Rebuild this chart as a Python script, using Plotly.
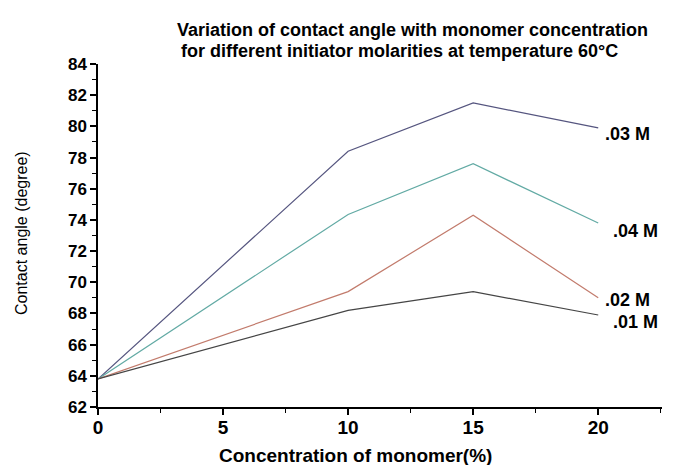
import plotly.graph_objects as go

# Data
conc = [0, 10, 15, 20]
series_names = [".03 M", ".04 M", ".02 M", ".01 M"]
angle_03 = [63.8, 78.4, 81.5, 79.9]
angle_04 = [63.8, 74.35, 77.6, 73.8]
angle_02 = [63.8, 69.4, 74.3, 69.0]
angle_01 = [63.8, 68.2, 69.4, 67.9]
y_ticks = list(range(62, 85, 2))
x_ticks = [0, 5, 10, 15, 20]

colors = ["#55557f", "#62aaa4", "#c27b6c", "#454545"]
series = [angle_03, angle_04, angle_02, angle_01]

FONT = "Arial, Liberation Sans, sans-serif"

# plot area in pixels: left 98, right 662, top 64, bottom 407
L, R, T, B = 98, 662, 64, 407
W, H = R - L, B - T


def px(xp):
    return (xp - L) / W


def py(yp):
    return (B - yp) / H


fig = go.Figure()
for name, vals, col in zip(series_names, series, colors):
    fig.add_trace(go.Scatter(x=conc, y=vals, mode="lines", name=name,
                             line=dict(color=col, width=1.2), cliponaxis=False))

# line-end labels (pixel positions of left edge / vertical centre)
label_pos = [(603, 134), (611, 231), (603, 300), (611, 322)]
for name, (lx, ly) in zip(series_names, label_pos):
    fig.add_annotation(x=px(lx), y=py(ly), xref="paper", yref="paper", text=name,
                       showarrow=False, xanchor="left", yanchor="middle",
                       font=dict(family=FONT, size=18, color="black", weight="bold"))

# title
fig.add_annotation(xref="paper", yref="paper", x=px(175), y=py(30),
                   text="Variation of contact angle with monomer concentration",
                   showarrow=False, xanchor="left", yanchor="middle",
                   font=dict(family=FONT, size=18, color="black", weight="bold"))
fig.add_annotation(xref="paper", yref="paper", x=px(179), y=py(51),
                   text="for different initiator molarities at temperature 60°C",
                   showarrow=False, xanchor="left", yanchor="middle",
                   font=dict(family=FONT, size=18, color="black", weight="bold"))

# axis titles
fig.add_annotation(xref="paper", yref="paper", x=px(355), y=py(455),
                   text="Concentration of monomer(%)", showarrow=False,
                   xanchor="center", yanchor="middle",
                   font=dict(family=FONT, size=19, color="black", weight="bold"))
fig.add_annotation(xref="paper", yref="paper", x=px(21), y=py(233),
                   text="Contact angle (degree)", showarrow=False, textangle=-90,
                   xanchor="center", yanchor="middle",
                   font=dict(family=FONT, size=16, color="black"))

fig.update_layout(
    width=674, height=465,
    margin=dict(l=L, r=674 - R, t=T, b=465 - B),
    plot_bgcolor="white", paper_bgcolor="white",
    showlegend=False,
    font=dict(family=FONT, color="black"),
)
fig.update_xaxes(
    range=[0, 22.55], tickvals=x_ticks, ticktext=[str(v) for v in x_ticks],
    showgrid=False, zeroline=False, showline=True, linecolor="black", linewidth=1.5,
    ticks="outside", ticklen=6, tickwidth=1.5, tickcolor="black",
    minor=dict(dtick=2.5, tick0=0, ticks="outside", ticklen=4, tickcolor="black", tickwidth=1),
    tickfont=dict(family=FONT, size=19, color="black", weight="bold"),
    ticklabelstandoff=-4,
)
fig.update_yaxes(
    range=[62, 84], tickvals=y_ticks, ticktext=[str(v) for v in y_ticks],
    showgrid=False, zeroline=False, showline=True, linecolor="black", linewidth=1.5,
    ticks="outside", ticklen=6, tickwidth=1.5, tickcolor="black",
    minor=dict(dtick=1, tick0=62, ticks="outside", ticklen=4, tickcolor="black", tickwidth=1),
    tickfont=dict(family=FONT, size=17, color="black", weight="bold"),
)

fig.write_html("out.html")
